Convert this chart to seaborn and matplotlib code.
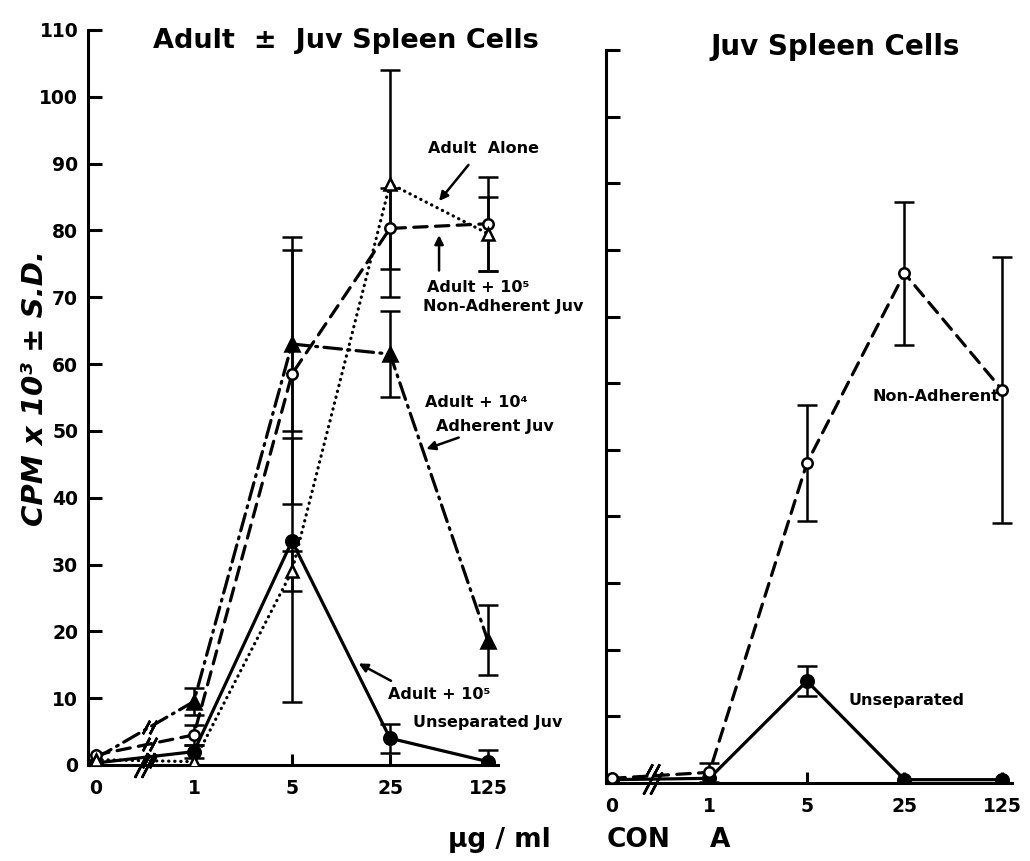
import numpy as np
import matplotlib
matplotlib.use("Agg")
import matplotlib.pyplot as plt
import seaborn as sns

# Con A concentration (ug/ml), plotted on an evenly spaced categorical axis
conc_labels = ["0", "1", "5", "25", "125"]

# Adult +/- juvenile spleen cells, CPM x 10^3 (mean, lower SD, upper SD)
adult_alone = [0.8, 0.5, 29.0, 87.0, 79.5]
adult_alone_lo = [0.0, 0.0, 3.0, 17.0, 5.5]
adult_alone_hi = [0.0, 0.0, 3.0, 17.0, 5.5]

adult_nonadh = [1.5, 4.5, 58.5, 80.3, 81.0]
adult_nonadh_lo = [0.0, 1.5, 19.5, 6.0, 7.0]
adult_nonadh_hi = [0.0, 1.5, 20.5, 6.0, 7.0]

adult_adh = [1.0, 9.5, 63.0, 61.5, 18.5]
adult_adh_lo = [0.0, 2.0, 13.0, 6.5, 5.0]
adult_adh_hi = [0.0, 2.0, 14.0, 6.5, 5.5]

adult_unsep = [0.3, 2.0, 33.5, 4.0, 0.5]
adult_unsep_lo = [0.0, 1.0, 24.0, 2.2, 1.8]
adult_unsep_hi = [0.0, 1.0, 15.5, 2.2, 1.8]

# Juvenile spleen cells alone
juv_nonadh = [0.7, 1.6, 48.0, 76.5, 59.0]
juv_nonadh_lo = [0.0, 1.4, 8.7, 10.7, 20.0]
juv_nonadh_hi = [0.0, 1.4, 8.7, 10.7, 20.0]

juv_unsep = [0.5, 0.7, 15.3, 0.5, 0.5]
juv_unsep_lo = [0.0, 0.0, 2.3, 0.0, 0.0]
juv_unsep_hi = [0.0, 0.0, 2.3, 0.0, 0.0]

y_ticks = [0, 10, 20, 30, 40, 50, 60, 70, 80, 90, 100, 110]

sns.set_style("ticks")
plt.rcParams["font.family"] = ["DejaVu Sans"]
plt.rcParams["font.weight"] = "bold"
plt.rcParams["text.color"] = "black"
plt.rcParams["axes.labelcolor"] = "black"
plt.rcParams["axes.edgecolor"] = "black"
plt.rcParams["xtick.color"] = "black"
plt.rcParams["ytick.color"] = "black"

DOTTED = (0, (0.1, 1.8))
DASHED = (0, (4.2, 2.6))
DASHDOT = (0, (5.5, 2.0, 0.6, 2.0))
SOLID = "-"

fig = plt.figure(figsize=(10.30, 8.61), dpi=100)
ax1 = fig.add_axes([0.0854, 0.1115, 0.398, 0.8537])
ax2 = fig.add_axes([0.5883, 0.0906, 0.394, 0.8513])


def draw_series(ax, y, lo, hi, ls, marker, filled, ms):
    x = np.arange(len(y))
    y = np.asarray(y, dtype=float)
    lo = np.asarray(lo, dtype=float)
    hi = np.asarray(hi, dtype=float)
    has_err = (lo > 0) | (hi > 0)
    if has_err.any():
        ax.errorbar(x[has_err], y[has_err], yerr=[lo[has_err], hi[has_err]],
                    fmt="none", ecolor="black", elinewidth=1.8,
                    capsize=7, capthick=1.8, zorder=2)
    sns.lineplot(x=x, y=y, ax=ax, color="black", linestyle=ls, lw=2.3,
                 dash_capstyle="round", marker=marker, markersize=ms,
                 markerfacecolor="black" if filled else "white",
                 markeredgecolor="black", markeredgewidth=1.8,
                 sort=False, estimator=None, zorder=3)


def break_marks(ax, xc, yc, ms, gap=0.07, lw=1.8):
    ax.plot([xc - gap / 2, xc + gap / 2], [yc, yc], ls="none",
            marker=(2, 2, -28), markersize=ms, markeredgewidth=lw,
            color="black", clip_on=False, zorder=4)


def style_axes(ax, xlim, show_ylabels):
    ax.set_xlim(*xlim)
    ax.set_ylim(0, 110)
    ax.set_xticks(np.arange(len(conc_labels)))
    ax.set_xticklabels(conc_labels)
    ax.set_yticks(y_ticks)
    if show_ylabels:
        ax.set_yticklabels([str(t) for t in y_ticks])
    else:
        ax.set_yticklabels([])
    for side in ("top", "right"):
        ax.spines[side].set_visible(False)
    for side in ("left", "bottom"):
        ax.spines[side].set_linewidth(2.2)
        ax.spines[side].set_color("black")
    ax.tick_params(axis="y", direction="in", length=10, width=2.2,
                   labelsize=13.5, pad=7, colors="black")
    ax.tick_params(axis="x", direction="in", length=8, width=2.2,
                   labelsize=13.5, pad=10, colors="black")
    for lab in ax.get_xticklabels() + ax.get_yticklabels():
        lab.set_fontweight("bold")
    ax.set_xlabel("")
    ax.set_ylabel("")
    ax.patch.set_alpha(0)


# Left panel: adult cells with or without juvenile cells
draw_series(ax1, adult_unsep, adult_unsep_lo, adult_unsep_hi, SOLID, "o", True, 9)
draw_series(ax1, adult_adh, adult_adh_lo, adult_adh_hi, DASHDOT, "^", True, 9.5)
draw_series(ax1, adult_nonadh, adult_nonadh_lo, adult_nonadh_hi, DASHED, "o", False, 7.5)
draw_series(ax1, adult_alone, adult_alone_lo, adult_alone_hi, DOTTED, "^", False, 8)
style_axes(ax1, (-0.08, 4.1), True)

# axis break between 0 and 1
break_marks(ax1, 0.5, 0.0, 20)
for series in (adult_adh, adult_nonadh, adult_alone):
    yb = series[0] + 0.55 * (series[1] - series[0])
    break_marks(ax1, 0.55, yb, 11)

arrow = dict(arrowstyle="-|>", color="black", lw=1.8, mutation_scale=13,
             shrinkA=0, shrinkB=0)
note = dict(fontsize=11.5, fontweight="bold", ha="center", va="center",
            clip_on=False, color="black")

ax1.text(3.95, 92.3, "Adult  Alone", **note)
ax1.annotate("", xy=(3.5, 84.4), xytext=(3.8, 89.8), arrowprops=arrow)

ax1.text(3.9, 71.4, "Adult + 10\u2075", **note)
ax1.text(4.15, 68.6, "Non-Adherent Juv", **note)
ax1.annotate("", xy=(3.5, 79.3), xytext=(3.5, 74.0), arrowprops=arrow)

ax1.text(3.88, 54.3, "Adult + 10\u2074", **note)
ax1.text(4.07, 50.6, "Adherent Juv", **note)
ax1.annotate("", xy=(3.37, 47.3), xytext=(3.7, 49.0), arrowprops=arrow)

ax1.text(3.5, 10.6, "Adult + 10\u2075", **note)
ax1.text(4.0, 6.4, "Unseparated Juv", **note)
ax1.annotate("", xy=(2.68, 15.2), xytext=(3.01, 12.6), arrowprops=arrow)

# Right panel: juvenile cells alone
draw_series(ax2, juv_unsep, juv_unsep_lo, juv_unsep_hi, SOLID, "o", True, 9)
draw_series(ax2, juv_nonadh, juv_nonadh_lo, juv_nonadh_hi, DASHED, "o", False, 7.5)
style_axes(ax2, (-0.06, 4.1), False)
break_marks(ax2, 0.42, 0.0, 18)
yb = juv_nonadh[0] + 0.42 * (juv_nonadh[1] - juv_nonadh[0])
break_marks(ax2, 0.42, yb + 0.8, 10)

ax2.text(3.32, 58.0, "Non-Adherent", **note)
ax2.text(3.02, 12.4, "Unseparated", **note)

# Titles and shared axis labels
fig.text(346 / 1030, 1 - 41 / 861, "Adult  \u00b1  Juv Spleen Cells",
         fontsize=19.5, fontweight="bold", ha="center", va="center")
fig.text(835 / 1030, 1 - 47 / 861, "Juv Spleen Cells",
         fontsize=20, fontweight="bold", ha="center", va="center")
fig.text(35 / 1030, 1 - 388 / 861, "CPM x 10\u00b3 \u00b1 S.D.",
         fontsize=21, fontweight="bold", fontstyle="italic",
         rotation=90, ha="center", va="center")
fig.text(448 / 1030, 1 - 840 / 861, "\u03bcg / ml", fontsize=19,
         fontweight="bold", ha="left", va="center")
fig.text(607 / 1030, 1 - 840 / 861, "CON", fontsize=19,
         fontweight="bold", ha="left", va="center")
fig.text(710 / 1030, 1 - 840 / 861, "A", fontsize=19,
         fontweight="bold", ha="left", va="center")

fig.savefig("out.png", dpi=100, facecolor="white")
